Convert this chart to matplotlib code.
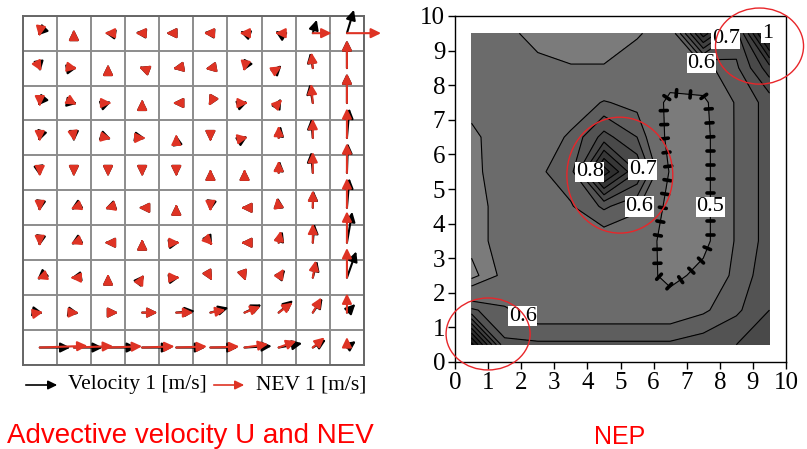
import numpy as np
import matplotlib
matplotlib.use("Agg")
import matplotlib.pyplot as plt
from matplotlib.patches import FancyArrowPatch, Ellipse

plt.rcParams['font.family'] = ['Liberation Serif', 'DejaVu Serif']

# Arrow field on the 10x10 grid, rows from top row to bottom row
# directions in degrees, lengths in grid cells
nev_ang = [
    [-100, 90, 180, 180, 180, 180, 180, 180, 0, 0],
    [-60, -10, 90, 160, 190, 190, -100, 30, 95, 90],
    [-90, -30, 0, 90, 180, -120, 0, 45, 95, 90],
    [-90, -80, -10, 0, 90, -90, 10, 90, 90, 90],
    [-90, -90, -90, -90, -90, 90, 90, 90, 90, 90],
    [-90, 200, 195, 180, 90, -90, 180, 100, 90, 90],
    [-90, 200, 180, 90, 0, -45, 180, 80, 90, 90],
    [200, 180, 90, 60, 0, -60, -70, 60, 80, 90],
    [10, 0, 0, 0, 0, 10, 20, 35, 60, 90],
    [2, 2, 2, 2, 2, 2, 8, 20, 40, 90],
]
nev_mag = [
    [0.1, 0.1, 0.1, 0.2, 0.3, 0.2, 0.15, 0.1, 0.55, 1.0],
    [0.1, 0.1, 0.1, 0.1, 0.1, 0.15, 0.1, 0.1, 0.45, 0.8],
    [0.1, 0.1, 0.1, 0.1, 0.1, 0.1, 0.1, 0.15, 0.55, 0.85],
    [0.1, 0.1, 0.1, 0.1, 0.1, 0.1, 0.1, 0.35, 0.55, 0.85],
    [0.1, 0.1, 0.1, 0.1, 0.1, 0.1, 0.1, 0.35, 0.6, 0.85],
    [0.1, 0.1, 0.1, 0.1, 0.1, 0.1, 0.1, 0.3, 0.5, 0.85],
    [0.1, 0.1, 0.1, 0.1, 0.1, 0.1, 0.1, 0.35, 0.55, 0.9],
    [0.1, 0.1, 0.1, 0.1, 0.1, 0.1, 0.1, 0.3, 0.5, 0.85],
    [0.1, 0.15, 0.3, 0.45, 0.5, 0.45, 0.5, 0.5, 0.5, 0.55],
    [1.4, 1.15, 1.0, 0.95, 0.9, 0.85, 0.7, 0.55, 0.45, 0.3],
]
vel_ang = [
    [-135, 90, 170, 175, 180, 175, 160, 150, 73, 73],
    [-80, 10, 90, 160, 190, 190, -120, 45, 100, 90],
    [-130, -10, 20, 90, 180, -120, 20, 60, 100, 90],
    [-110, -90, -20, -10, 100, -90, 30, 80, 95, 85],
    [-80, -90, -90, -90, -90, 90, 90, 85, 95, 88],
    [-100, 210, 200, 180, 90, -100, 180, 95, 88, 85],
    [-100, 210, 180, 90, 10, -60, 180, 70, 85, 80],
    [220, 190, 90, 50, 10, -60, -70, 50, 75, 70],
    [-10, -10, 0, 0, 5, 15, 25, 40, 55, 45],
    [0, 0, 0, 0, 0, 0, 3, 10, 30, 35],
]
vel_mag = [
    [0.1, 0.1, 0.1, 0.2, 0.3, 0.2, 0.15, 0.12, 0.4, 0.7],
    [0.1, 0.1, 0.1, 0.1, 0.1, 0.15, 0.1, 0.12, 0.45, 0.8],
    [0.1, 0.1, 0.1, 0.1, 0.1, 0.1, 0.1, 0.15, 0.55, 0.85],
    [0.1, 0.1, 0.1, 0.1, 0.1, 0.1, 0.1, 0.35, 0.55, 0.85],
    [0.1, 0.1, 0.1, 0.1, 0.1, 0.1, 0.1, 0.35, 0.6, 0.85],
    [0.1, 0.1, 0.1, 0.1, 0.1, 0.1, 0.1, 0.3, 0.5, 0.85],
    [0.1, 0.1, 0.1, 0.1, 0.1, 0.1, 0.1, 0.35, 0.55, 0.9],
    [0.1, 0.1, 0.1, 0.1, 0.1, 0.1, 0.1, 0.3, 0.5, 0.8],
    [0.1, 0.15, 0.3, 0.45, 0.55, 0.55, 0.55, 0.55, 0.5, 0.35],
    [0.9, 0.85, 0.85, 0.88, 0.85, 0.8, 0.8, 0.7, 0.45, 0.32],
]

# NEP on the grid x = 0.5..9.5, rows from y = 9.5 down to y = 0.5
nep = [
    [0.52, 0.52, 0.475, 0.46, 0.46, 0.49, 0.55, 0.88, 0.68, 1.02],
    [0.53, 0.53, 0.52, 0.505, 0.505, 0.55, 0.55, 0.58, 0.64, 0.78],
    [0.53, 0.55, 0.55, 0.56, 0.605, 0.58, 0.48, 0.48, 0.61, 0.67],
    [0.48, 0.55, 0.56, 0.61, 0.72, 0.65, 0.47, 0.47, 0.61, 0.67],
    [0.48, 0.54, 0.59, 0.63, 0.93, 0.75, 0.49, 0.47, 0.61, 0.67],
    [0.47, 0.53, 0.57, 0.595, 0.66, 0.61, 0.47, 0.47, 0.61, 0.67],
    [0.47, 0.53, 0.55, 0.56, 0.56, 0.56, 0.46, 0.47, 0.61, 0.67],
    [0.43, 0.52, 0.55, 0.55, 0.55, 0.55, 0.47, 0.53, 0.62, 0.68],
    [0.66, 0.61, 0.56, 0.56, 0.56, 0.56, 0.56, 0.59, 0.64, 0.70],
    [1.02, 0.66, 0.66, 0.66, 0.66, 0.66, 0.66, 0.68, 0.70, 0.72],
]
nep_x = np.arange(0.5, 10, 1.0)
nep_y = np.arange(9.5, 0, -1.0)
fill_levels = [0.35, 0.4, 0.45, 0.5, 0.6, 0.65, 0.7, 0.75, 0.8, 0.85, 0.9, 0.95, 1.0, 1.05]
fill_grays = ['#8e8e8e', '#868686', '#7b7b7b', '#6b6b6b', '#5e5e5e', '#535353', '#494949',
              '#404040', '#373737', '#2f2f2f', '#272727', '#1f1f1f', '#151515']
line_levels = [0.45, 0.5, 0.6, 0.65, 0.7, 0.75, 0.8, 0.85, 0.9, 0.95, 1.0]
# label level and rough place for each contour label
label_levels = [0.5, 0.6, 0.6, 0.6, 0.7, 0.7, 0.8, 1.0]
label_spots = [(7.55, 4.48), (5.6, 4.48), (7.4, 8.6), (1.96, 1.16),
               (5.77, 5.6), (8.25, 9.25), (4.08, 5.5), (9.4, 9.6)]

W, H = 807, 449
fig = plt.figure(figsize=(W / 100, H / 100), dpi=100)

# ---- left: velocity and NEV arrows
ax1 = fig.add_axes([22.7 / W, 1 - 365 / H, 341.3 / W, 349.3 / H])
ax1.set_xlim(0, 10)
ax1.set_ylim(0, 10)
ax1.set_xticks(range(11))
ax1.set_yticks(range(11))
ax1.tick_params(length=0, labelbottom=False, labelleft=False)
ax1.grid(True, color='#8c8c8c', lw=1.4)
for s in ax1.spines.values():
    s.set_color('#666666')
    s.set_linewidth(1.4)


def draw_arrows(ax, angs, mags, color, z):
    for r in range(10):
        for c in range(10):
            a = np.deg2rad(angs[r][c])
            m = mags[r][c]
            x0, y0 = c + 0.5, 9.5 - r
            ax.add_patch(FancyArrowPatch(
                (x0, y0), (x0 + m * np.cos(a), y0 + m * np.sin(a)),
                arrowstyle='-|>,head_length=0.45,head_width=0.22', mutation_scale=13,
                color=color, lw=1.5, shrinkA=0, shrinkB=0, zorder=z, clip_on=False))


draw_arrows(ax1, vel_ang, vel_mag, 'black', 3)
draw_arrows(ax1, nev_ang, nev_mag, '#de3324', 4)

# legend under the grid
ly = 1 - 385 / H
fig.add_artist(FancyArrowPatch((23 / W, ly), (60 / W, ly), transform=fig.transFigure,
                               arrowstyle='-|>,head_length=0.45,head_width=0.22',
                               mutation_scale=12, color='black', lw=1.2))
fig.text(68 / W, ly, 'Velocity 1 [m/s]', fontsize=15.5, va='center', ha='left')
fig.add_artist(FancyArrowPatch((211 / W, ly), (247 / W, ly), transform=fig.transFigure,
                               arrowstyle='-|>,head_length=0.45,head_width=0.22',
                               mutation_scale=12, color='#de3324', lw=1.2))
fig.text(256 / W, ly, 'NEV 1 [m/s]', fontsize=15.5, va='center', ha='left')

fig.text(190 / W, 1 - 436 / H, 'Advective velocity U and NEV', color='red',
         fontsize=20, family='Liberation Sans', ha='center', va='center')
fig.text(620 / W, 1 - 437 / H, 'NEP', color='red',
         fontsize=18, family='Liberation Sans', ha='center', va='center')

# ---- right: NEP contours
ax2 = fig.add_axes([455 / W, 1 - 362 / H, 331 / W, 346 / H])
ax2.set_xlim(0, 10)
ax2.set_ylim(0, 10)
X, Y = np.meshgrid(nep_x, nep_y)
Z = np.array(nep)
ax2.contourf(X, Y, Z, levels=fill_levels, colors=fill_grays)
cs = ax2.contour(X, Y, Z, levels=line_levels, colors='black', linewidths=0.8)

# one invisible contour per label so each label sits on its own level
for lev, spot in zip(label_levels, label_spots):
    cl = ax2.contour(X, Y, Z, levels=[lev], colors='none')
    for t in cl.clabel(manual=[spot], inline=False, fontsize=16, colors='black',
                       fmt=lambda v: f'{v:g}'):
        t.set_rotation(0)
        t.set_bbox(dict(facecolor='white', edgecolor='none', pad=0.5))

# hachures on the closed 0.5 depression contour
p05 = cs.get_paths()[line_levels.index(0.5)]
inv = ax2.transData.inverted()
for poly in p05.to_polygons(closed_only=False):
    if poly[:, 0].mean() < 5.5:
        continue
    pts = ax2.transData.transform(poly)
    seg = np.diff(pts, axis=0)
    d = np.hypot(seg[:, 0], seg[:, 1])
    keep = d > 0
    seg, d = seg[keep], d[keep]
    base = pts[:-1][keep]
    s = np.concatenate([[0], np.cumsum(d)])
    for t in np.arange(6, s[-1], 14):
        k = min(np.searchsorted(s, t) - 1, len(d) - 1)
        p = base[k] + seg[k] * (t - s[k]) / d[k]
        n = np.array([-seg[k, 1], seg[k, 0]]) / d[k]
        a, b = inv.transform([p - 3.5 * n, p + 3.5 * n])
        ax2.plot([a[0], b[0]], [a[1], b[1]], color='black', lw=2.6,
                 solid_capstyle='round', zorder=3)

# red circles
for cx, cy, w, h in [(4.98, 5.4, 3.2, 3.35), (9.2, 9.13, 2.66, 2.2), (1.0, 0.81, 2.54, 2.08)]:
    ax2.add_patch(Ellipse((cx, cy), w, h, fill=False, edgecolor='#e8262a', lw=1.0,
                          clip_on=False, zorder=5))

ax2.set_xticks(range(11))
ax2.set_yticks(range(11))
ax2.tick_params(direction='out', length=5, width=1, labelsize=18, pad=2)
for s in ax2.spines.values():
    s.set_linewidth(1.0)

fig.savefig('out.png', dpi=100)
